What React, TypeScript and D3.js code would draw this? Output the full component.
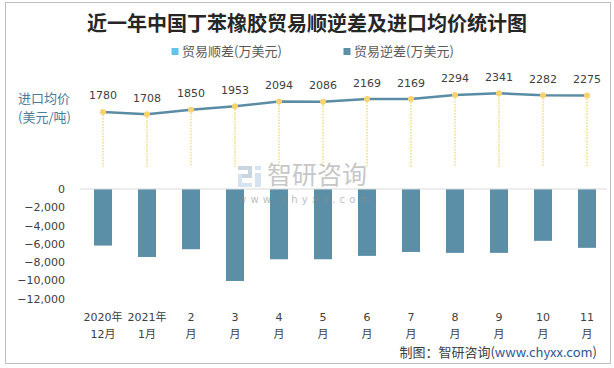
import React from "react";
import * as d3 from "d3";

const categories: string[][] = [
  ["2020年", "12月"], ["2021年", "1月"], ["2", "月"], ["3", "月"], ["4", "月"], ["5", "月"],
  ["6", "月"], ["7", "月"], ["8", "月"], ["9", "月"], ["10", "月"], ["11", "月"],
];
const tradeDeficit: number[] = [-6200, -7450, -6600, -10080, -7700, -7700, -7330, -6900, -7000, -7000, -5680, -6450];
const importPrice: number[] = [1780, 1708, 1850, 1953, 2094, 2086, 2169, 2169, 2294, 2341, 2282, 2275];
const yTicks: number[] = [0, -2000, -4000, -6000, -8000, -10000, -12000];

const W = 614;
const H = 368;
const NUM_FONT = "'DejaVu Sans', 'Noto Sans CJK SC', sans-serif";
const CJK_FONT = "'Noto Sans CJK SC', sans-serif";

export default function App() {
  const x = d3.scaleBand<number>().domain(d3.range(categories.length)).range([81, 609]).paddingInner(0.59).paddingOuter(0.295);
  const y = d3.scaleLinear().domain([-12000, 0]).range([298.5, 189]);
  const y2 = d3.scaleLinear().domain([0, 2400]).range([171, 91.4]);
  const cx = (i: number) => (x(i) as number) + x.bandwidth() / 2;
  const fmt = d3.format(",");
  const line = d3.line<number>().x((_, i) => cx(i)).y((d) => y2(d));

  return (
    <svg width={W} height={H} style={{ position: "absolute", left: 0, top: 0 }}>
      <rect x={0} y={0} width={W} height={H} fill="#fff" />
      <rect x={5.5} y={2.5} width={605} height={361} fill="#fff" stroke="#bfbfbf" strokeWidth={1} />
      <text x={307} y={31} textAnchor="middle" fontFamily={CJK_FONT} fontWeight={700} fontSize={20} fill="#262626">
        近一年中国丁苯橡胶贸易顺逆差及进口均价统计图
      </text>
      {/* legend */}
      <rect x={171.5} y={48} width={7} height={7} fill="#62C3EE" />
      <text x={182} y={56} fontFamily={CJK_FONT} fontSize={13} fill="#595959">贸易顺差(万美元)</text>
      <rect x={343.5} y={48} width={7} height={7} fill="#5B8FA8" />
      <text x={354} y={56} fontFamily={CJK_FONT} fontSize={13} fill="#595959">贸易逆差(万美元)</text>

      {/* secondary axis label */}
      <text x={18} y={103} fontFamily={CJK_FONT} fontSize={13} fill="#4A7C9C">进口均价</text>
      <text x={18} y={122} fontFamily={CJK_FONT} fontSize={13} fill="#4A7C9C">(美元/吨)</text>

      {/* y axis ticks */}
      {yTicks.map((t) => (
        <text key={t} x={65} y={y(t) + 4} textAnchor="end" fontFamily={NUM_FONT} fontSize={11} fill="#404040">
          {fmt(t)}
        </text>
      ))}

      {/* bars */}
      {tradeDeficit.map((v, i) => (
        <rect key={i} x={x(i)} y={y(0)} width={x.bandwidth()} height={y(v) - y(0)} fill="#5B8FA8" />
      ))}
      <line x1={80} x2={607} y1={y(0)} y2={y(0)} stroke="#d9d9d9" strokeWidth={1} />

      {/* drop lines */}
      {importPrice.map((v, i) => (
        <line key={i} x1={cx(i)} x2={cx(i)} y1={y2(v)} y2={167} stroke="#F8D77F" strokeWidth={1.5} strokeDasharray="1.5 1.5" />
      ))}

      {/* price line */}
      <path d={line(importPrice) || ""} fill="none" stroke="#5A8CA6" strokeWidth={2.5} />
      {importPrice.map((v, i) => (
        <circle key={i} cx={cx(i)} cy={y2(v)} r={3} fill="#F8D36E" />
      ))}
      {importPrice.map((v, i) => (
        <text key={i} x={cx(i)} y={y2(v) - 12.5} textAnchor="middle" fontFamily={NUM_FONT} fontSize={11} fill="#404040">
          {v}
        </text>
      ))}

      {/* x labels */}
      {categories.map((c, i) => (
        <g key={i}>
          <text x={cx(i)} y={320.5} textAnchor="middle" fontFamily={NUM_FONT} fontSize={11} fill="#404040">{c[0]}</text>
          <text x={cx(i)} y={337.5} textAnchor="middle" fontFamily={NUM_FONT} fontSize={11} fill="#404040">{c[1]}</text>
        </g>
      ))}

      {/* watermark */}
      <g opacity={0.55}>
        <rect x={238} y={166} width={14} height={4} fill="#9fb3cc" />
        <rect x={248} y={166} width={4} height={10} fill="#9fb3cc" />
        <rect x={238} y={174} width={14} height={4} fill="#9fb3cc" />
        <rect x={238} y={174} width={4} height={12} fill="#b6cde6" />
        <rect x={238} y={183} width={14} height={4} fill="#b6cde6" />
        <rect x={255} y={166} width={6} height={4} fill="#b6cde6" />
        <rect x={255} y={173} width={6} height={14} fill="#b6cde6" />
        <text x={267} y={184} fontFamily={CJK_FONT} fontSize={25} fill="#9a9a9a">智研咨询</text>
        <text x={238} y={203} fontFamily={NUM_FONT} fontSize={10} fill="#8a8a8a" letterSpacing={4.2}>www.chyxx.com</text>
      </g>

      {/* source */}
      <text x={597} y={357} textAnchor="end" fontFamily={CJK_FONT} fontSize={13} fill="#404040">
        制图：智研咨询(<tspan fill="#2F5597">www.chyxx.com</tspan>)
      </text>
    </svg>
  );
}
